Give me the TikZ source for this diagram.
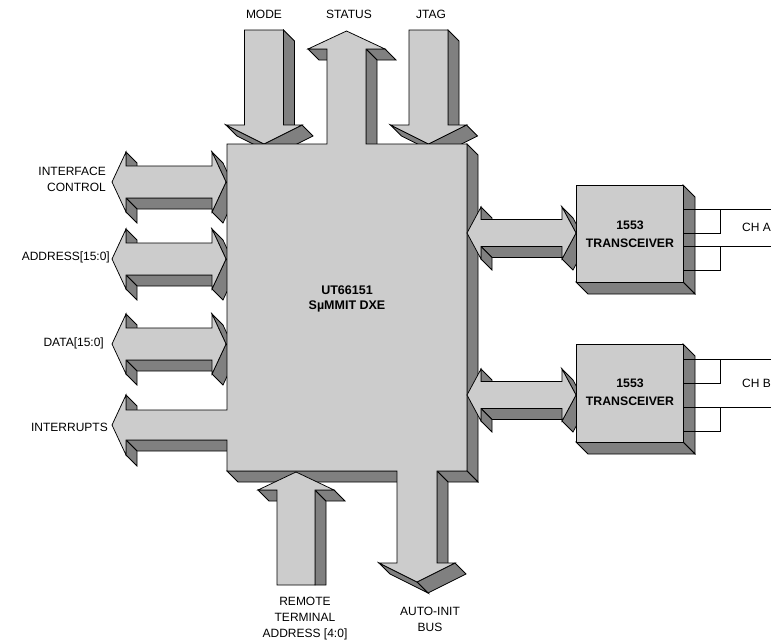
\documentclass[tikz,border=0pt]{standalone}
\usepackage{fontspec}
\setmainfont{Liberation Sans}
\definecolor{lg}{RGB}{204,204,204}
\definecolor{dg}{RGB}{128,128,128}
\tikzset{
  face/.style={fill=dg,draw=black,line width=0.75pt,line join=miter},
  front/.style={fill=lg,draw=black,line width=0.75pt,line join=miter},
  lbl/.style={font=\fontsize{12}{16}\selectfont,inner sep=0pt,align=center},
  blbl/.style={font=\bfseries\fontsize{12.5}{15}\selectfont,inner sep=0pt,align=center},
  xlbl/.style={font=\bfseries\fontsize{12.3}{17.8}\selectfont,inner sep=0pt,align=center},
  wire/.style={line width=0.75pt}
}
% down arrow: xc, ytop, ybase (head base); tip at ybase+19
\newcommand\DownArr[3]{%
  \draw[face] ({#1+19.5},#2) -- ({#1+30.5},{#2+11}) -- ({#1+30.5},{#3+11}) -- ({#1+19.5},#3) -- cycle;
  \draw[face] ({#1+38},#3) -- (#1,{#3+19}) -- ({#1+11},{#3+30}) -- ({#1+49},{#3+11}) -- cycle;
  \draw[face] (#1,{#3+19}) -- ({#1-38},#3) -- ({#1-27},{#3+11}) -- ({#1+11},{#3+30}) -- cycle;
  \draw[front] ({#1-19.5},#2) -- ({#1+19.5},#2) -- ({#1+19.5},#3) -- ({#1+38},#3) -- (#1,{#3+19}) -- ({#1-38},#3) -- ({#1-19.5},#3) -- cycle;
}
% double horizontal arrow: xl, xr, yc, S (shaft half), B (barb half), L (head length)
\newcommand\DblArr[6]{%
  \draw[face] ({#1+#6},{#3+#4}) -- ({#2-#6},{#3+#4}) -- ({#2-#6+11},{#3+#4+11}) -- ({#1+#6+11},{#3+#4+11}) -- cycle;
  \draw[face] ({#1+#6},{#3-#5}) -- ({#1+#6},{#3-#4}) -- ({#1+#6+11},{#3-#4+11}) -- ({#1+#6+11},{#3-#5+11}) -- cycle;
  \draw[face] ({#1+#6},{#3+#4}) -- ({#1+#6},{#3+#5}) -- ({#1+#6+11},{#3+#5+11}) -- ({#1+#6+11},{#3+#4+11}) -- cycle;
  \draw[face] ({#2-#6},{#3-#5}) -- (#2,#3) -- ({#2+11},{#3+11}) -- ({#2-#6+11},{#3-#5+11}) -- cycle;
  \draw[face] (#2,#3) -- ({#2-#6},{#3+#5}) -- ({#2-#6+11},{#3+#5+11}) -- ({#2+11},{#3+11}) -- cycle;
  \draw[front] (#1,#3) -- ({#1+#6},{#3-#5}) -- ({#1+#6},{#3-#4}) -- ({#2-#6},{#3-#4}) -- ({#2-#6},{#3-#5}) -- (#2,#3)
    -- ({#2-#6},{#3+#5}) -- ({#2-#6},{#3+#4}) -- ({#1+#6},{#3+#4}) -- ({#1+#6},{#3+#5}) -- cycle;
}
% transceiver box: x1,y1,x2,y2
\newcommand\XcvrBox[4]{%
  \draw[face] (#3,#2) -- ({#3+12},{#2+12}) -- ({#3+12},{#4+12}) -- (#3,#4) -- cycle;
  \draw[face] (#1,#4) -- (#3,#4) -- ({#3+12},{#4+12}) -- ({#1+12},{#4+12}) -- cycle;
  \draw[front] (#1,#2) rectangle (#3,#4);
}
\begin{document}
\begin{tikzpicture}[x=1pt,y=-1pt]
\useasboundingbox (0,0) rectangle (771,643);
\fill[white] (0,0) rectangle (771,643);

% top inputs
\DownArr{264}{30}{125}
\DownArr{428.5}{30}{125}

% left double arrows
\DblArr{112}{226}{182}{16}{30}{14}
\DblArr{112}{226}{259}{16}{30}{14}
\DblArr{112}{226}{344}{16}{30}{14}

% main block (box + STATUS + AUTO-INIT + INTERRUPTS), side faces
\draw[face] (308,49) -- (327,49) -- (338,60) -- (319,60) -- cycle;
\draw[face] (366,49) -- (385,49) -- (396,60) -- (377,60) -- cycle;
\draw[face] (366,49) -- (377,60) -- (377,155) -- (366,144) -- cycle;
\draw[face] (467,144) -- (478,155) -- (478,482) -- (467,471) -- cycle;
\draw[face] (437,471) -- (467,471) -- (478,482) -- (448,482) -- cycle;
\draw[face] (227,471) -- (397,471) -- (408,482) -- (238,482) -- cycle;
\draw[face] (437,471) -- (448,482) -- (448,574) -- (437,563) -- cycle;
\draw[face] (455,563) -- (417,582) -- (428,593) -- (466,574) -- cycle;
\draw[face] (417,582) -- (379,563) -- (390,574) -- (428,593) -- cycle;
\draw[face] (126,440) -- (227,440) -- (238,451) -- (137,451) -- cycle;
\draw[face] (126,440) -- (126,455) -- (137,466) -- (137,451) -- cycle;
\draw[face] (126,395) -- (126,410) -- (137,421) -- (137,406) -- cycle;
\draw[front] (227,144) -- (327,144) -- (327,49) -- (308,49) -- (346.5,31) -- (385,49) -- (366,49) -- (366,144)
  -- (467,144) -- (467,471) -- (437,471) -- (437,563) -- (455,563) -- (417,582) -- (379,563) -- (397,563)
  -- (397,471) -- (227,471) -- (227,440) -- (126,440) -- (126,455) -- (112,425) -- (126,395) -- (126,410)
  -- (227,410) -- cycle;

% remote terminal address arrow (up)
\draw[face] (315,490) -- (326,501) -- (326,585) -- (315,585) -- cycle;
\draw[face] (315,490) -- (334,490) -- (345,501) -- (326,501) -- cycle;
\draw[face] (258,490) -- (277,490) -- (288,501) -- (269,501) -- cycle;
\draw[front] (296,472) -- (334,490) -- (315,490) -- (315,585) -- (277,585) -- (277,490) -- (258,490) -- cycle;

% right double arrows
\DblArr{467}{576}{233}{13.5}{26}{14}
\DblArr{467}{576}{395}{13.5}{26}{14}

% transceivers
\XcvrBox{576}{185}{683}{282}
\XcvrBox{576}{344}{683}{442}

% channel wiring
\draw[wire] (683,209) -- (771,209);
\draw[wire] (683,233) -- (720,233) -- (720,209);
\draw[wire] (683,246) -- (771,246);
\draw[wire] (683,270) -- (720,270) -- (720,246);
\draw[wire] (683,359) -- (771,359);
\draw[wire] (683,383) -- (720,383) -- (720,359);
\draw[wire] (683,407) -- (771,407);
\draw[wire] (683,431) -- (720,431) -- (720,407);

% labels
\node[lbl] (mode) at (264,14) {MODE};
\node[lbl] (status) at (349,14) {STATUS};
\node[lbl] (jtag) at (431,14) {JTAG};
\node[lbl,anchor=east,align=right] (ifc) at (106,179) {INTERFACE\\CONTROL};
\node[lbl,anchor=east] (addr) at (110,257) {ADDRESS[15:0]};
\node[lbl,anchor=east] (data) at (104,343) {DATA[15:0]};
\node[lbl,anchor=east] (irq) at (108,427) {INTERRUPTS};
\node[blbl] (core) at (347,299) {UT66151\\S\textmu MMIT DXE};
\node[xlbl] (xa) at (630,234) {1553\\TRANSCEIVER};
\node[xlbl] (xb) at (630,392) {1553\\TRANSCEIVER};
\node[lbl,anchor=west] (cha) at (742,227.5) {CH A};
\node[lbl,anchor=west] (chb) at (742,383) {CH B};
\node[lbl] (rta) at (305,619) {REMOTE\\TERMINAL\\ADDRESS [4:0]};
\node[lbl] (aib) at (430,619.5) {AUTO-INIT\\BUS};
\end{tikzpicture}
\end{document}
